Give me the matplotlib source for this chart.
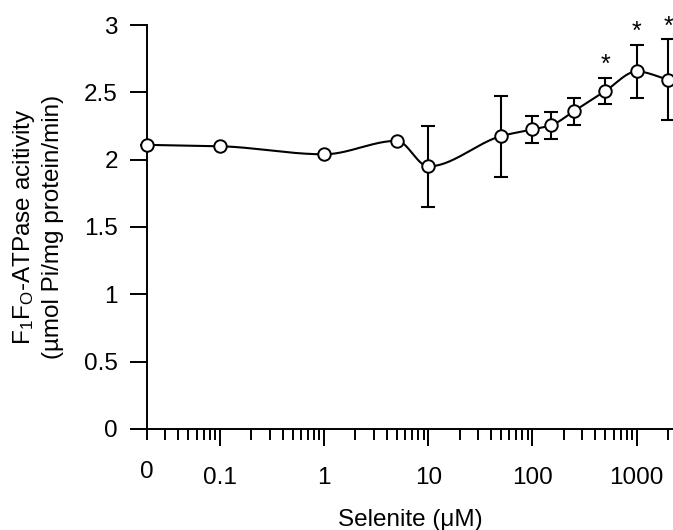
import numpy as np
import matplotlib
matplotlib.use("Agg")
import matplotlib.pyplot as plt
from matplotlib.ticker import FixedLocator, FixedFormatter

plt.rcParams['font.family'] = ['Liberation Sans', 'DejaVu Sans']
plt.rcParams['mathtext.fontset'] = 'custom'
plt.rcParams['mathtext.rm'] = 'Liberation Sans'
plt.rcParams['mathtext.it'] = 'Liberation Sans:italic'

# Data (0 plotted at 0.02 on the log axis)
conc = [0.02, 0.1, 1, 5, 10, 50, 100, 150, 250, 500, 1000, 2000]
activity = [2.11, 2.10, 2.04, 2.14, 1.95, 2.175, 2.225, 2.255, 2.36, 2.51, 2.655, 2.595]
sem = [0.0, 0.0, 0.0, 0.0, 0.30, 0.30, 0.10, 0.10, 0.10, 0.10, 0.20, 0.30]
significant = [500, 1000, 2000]

xtick_vals = [0.1, 1, 10, 100, 1000]
xtick_labels = ['0.1', '1', '10', '100', '1000']
zero_pos = 0.02
ytick_vals = [0, 0.5, 1, 1.5, 2, 2.5, 3]
ytick_labels = ['0', '0.5', '1', '1.5', '2', '2.5', '3']


def pchip(xk, yk, xs):
    xk = np.asarray(xk, float); yk = np.asarray(yk, float)
    n = len(xk)
    h = np.diff(xk)
    delta = np.diff(yk) / h
    d = np.zeros(n)
    for i in range(1, n - 1):
        if delta[i - 1] * delta[i] <= 0:
            d[i] = 0.0
        else:
            w1 = 2 * h[i] + h[i - 1]
            w2 = h[i] + 2 * h[i - 1]
            d[i] = (w1 + w2) / (w1 / delta[i - 1] + w2 / delta[i])
    d[0] = delta[0]
    d[-1] = delta[-1]
    idx = np.clip(np.searchsorted(xk, xs) - 1, 0, n - 2)
    t = (xs - xk[idx]) / h[idx]
    h00 = 2 * t ** 3 - 3 * t ** 2 + 1
    h10 = t ** 3 - 2 * t ** 2 + t
    h01 = -2 * t ** 3 + 3 * t ** 2
    h11 = t ** 3 - t ** 2
    return (h00 * yk[idx] + h10 * h[idx] * d[idx]
            + h01 * yk[idx + 1] + h11 * h[idx] * d[idx + 1])


fig = plt.figure(figsize=(6.73, 5.30), dpi=100)
ax = fig.add_axes([0.2184, 0.1906, 0.7816, 0.7622])

lx = np.log10(conc)
xs = np.linspace(lx[0], lx[-1], 800)
ys = pchip(lx, activity, xs)
ax.plot(10 ** xs, ys, color='black', lw=1.5, zorder=2, clip_on=False)

ax.errorbar(conc, activity, yerr=sem, fmt='none', ecolor='black',
            elinewidth=1.5, capsize=5.2, capthick=1.5, zorder=3, clip_on=False)
ax.plot(conc, activity, 'o', ms=9, mfc='white', mec='black', mew=1.4,
        zorder=4, clip_on=False)

for c, a, s in zip(conc, activity, sem):
    if c in significant:
        ax.text(c, a + s + 0.04, '*', ha='center', va='baseline', fontsize=18,
                color='black')

ax.set_xscale('log')
ax.set_xlim(0.02, 2229)
ax.set_ylim(0, 3)

minor = []
for dec in [0.01, 0.1, 1, 10, 100, 1000]:
    for k in range(2, 10):
        v = dec * k
        if 0.02 <= v <= 2000 + 1e-9:
            minor.append(v)
ax.xaxis.set_major_locator(FixedLocator(xtick_vals))
ax.xaxis.set_major_formatter(FixedFormatter(xtick_labels))
ax.xaxis.set_minor_locator(FixedLocator(minor))
minor_labels = ['0' if abs(v - zero_pos) < 1e-9 else '' for v in minor]
ax.xaxis.set_minor_formatter(FixedFormatter(minor_labels))

ax.set_yticks(ytick_vals)
ax.set_yticklabels(ytick_labels)

for s in ['top', 'right']:
    ax.spines[s].set_visible(False)
for s in ['left', 'bottom']:
    ax.spines[s].set_linewidth(1.4)

fs = 17.5
ax.tick_params(axis='x', which='major', direction='out', length=12.5, width=1.4,
               pad=15, labelsize=fs)
ax.tick_params(axis='x', which='minor', direction='out', length=8.0, width=1.4,
               pad=15, labelsize=fs)
ax.tick_params(axis='y', which='major', direction='out', length=12, width=1.4,
               pad=9, labelsize=fs)

ax.set_xlabel('Selenite (μM)', fontsize=fs, labelpad=14)
ax.set_ylabel('F$_\\mathregular{1}$F$_\\mathregular{O}$-ATPase acitivity\n(µmol Pi/mg protein/min)',
              fontsize=fs, labelpad=14, linespacing=1.3)

fig.savefig('out.png', dpi=100)
